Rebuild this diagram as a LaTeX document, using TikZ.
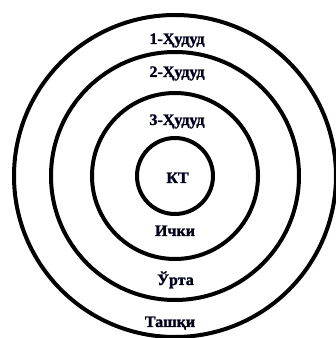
\documentclass[tikz,border=0pt]{standalone}
\usepackage{fontspec}
\setmainfont{Liberation Serif}[BoldFont={Liberation Serif Bold},BoldFeatures={FakeBold=1.5}]
\begin{document}
\begin{tikzpicture}[x=1pt,y=1pt,
  ring/.style={draw=black,line width=4pt},
  lbl/.style={font=\fontsize{16}{18}\selectfont\bfseries,anchor=base,inner sep=0pt,text=black!90!blue}]
\useasboundingbox (0,0) rectangle (336,338);
\coordinate (c) at (175,162);
\draw[ring] (c) circle (161);
\draw[ring] (c) circle (124);
\draw[ring] (c) circle (83);
\draw[ring] (c) circle (38);
\node[lbl] (z1) at (177,294) {1-Ҳудуд};
\node[lbl] (z2) at (177,261) {2-Ҳудуд};
\node[lbl] (z3) at (177,213) {3-Ҳудуд};
\node[lbl] (kt) at (177.5,155) {КТ};
\node[lbl] (ichki) at (175,102) {Ички};
\node[lbl] (urta) at (175.5,53) {Ўрта};
\node[lbl] (tashqi) at (170,11) {Ташқи};
\end{tikzpicture}
\end{document}
